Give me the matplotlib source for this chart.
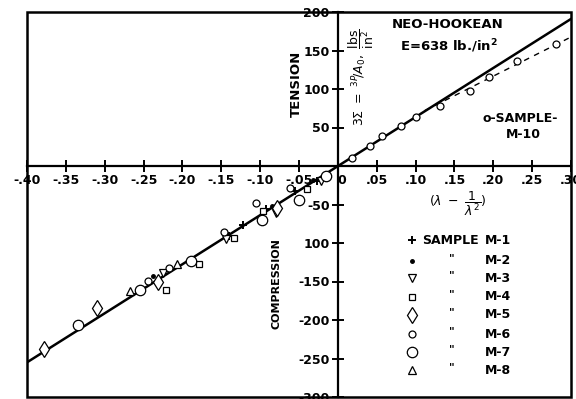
import matplotlib
matplotlib.use("Agg")
import matplotlib.pyplot as plt
from matplotlib.patches import Rectangle

# ---------------- data ----------------
x_ticks = [-0.40, -0.35, -0.30, -0.25, -0.20, -0.15, -0.10, -0.05, 0, 0.05, 0.10, 0.15, 0.20, 0.25, 0.30]
x_tick_labels = ["-.40", "-.35", "-.30", "-.25", "-.20", "-.15", "-.10", "-.05", "0",
                 ".05", ".10", ".15", ".20", ".25", ".30"]
y_ticks = [-300, -250, -200, -150, -100, -50, 50, 100, 150, 200]
y_tick_labels = ["-300", "-250", "-200", "-150", "100", "-50", "50", "100", "150", "200"]

fit_x = [-0.40, 0.30]
fit_y = [-255, 191]

m10_x = [0.018, 0.042, 0.057, 0.081, 0.100, 0.132, 0.170, 0.194, 0.231, 0.281]
m10_y = [11, 26, 39, 52, 63, 78, 97, 115, 136, 158]
m10_dash_x = [0.112, 0.297]
m10_dash_y = [72, 166]

m1_x = [-0.027, -0.055, -0.092, -0.122, -0.140]
m1_y = [-19, -33, -56, -77, -91]
m2_x = [-0.238, -0.085, -0.032]
m2_y = [-143, -52, -18]
m3_x = [-0.022, -0.080, -0.144, -0.225]
m3_y = [-20, -61, -95, -139]
m4_x = [-0.040, -0.096, -0.133, -0.179, -0.221]
m4_y = [-30, -59, -94, -127, -161]
m5_x = [-0.078, -0.231, -0.310, -0.378]
m5_y = [-55, -150, -184, -238]
m6_x = [-0.062, -0.105, -0.147, -0.217, -0.244]
m6_y = [-28, -48, -86, -133, -149]
m7_x = [-0.015, -0.050, -0.097, -0.189, -0.254, -0.334]
m7_y = [-13, -44, -70, -123, -161, -206]
m8_x = [-0.207, -0.268]
m8_y = [-127, -162]

legend_names = ["M-1", "M-2", "M-3", "M-4", "M-5", "M-6", "M-7", "M-8"]

# ---------------- styles ----------------
plt.rcParams['font.family'] = ['DejaVu Sans']
plt.rcParams['mathtext.fontset'] = 'dejavusans'
FS = 9
FW = 'bold'
styles = {
    "M-1": dict(marker='+', ms=6, mew=1.4, mfc='black'),
    "M-2": dict(marker='o', ms=2.5, mew=1.0, mfc='black'),
    "M-3": dict(marker='v', ms=5.5, mew=0.9, mfc='white'),
    "M-4": dict(marker='s', ms=5, mew=0.9, mfc='white'),
    "M-5": dict(marker='d', ms=8.5, mew=0.9, mfc='white'),
    "M-6": dict(marker='o', ms=5, mew=0.9, mfc='white'),
    "M-7": dict(marker='o', ms=7.5, mew=0.9, mfc='white'),
    "M-8": dict(marker='^', ms=5.5, mew=0.9, mfc='white'),
}
series = {
    "M-1": (m1_x, m1_y), "M-2": (m2_x, m2_y), "M-3": (m3_x, m3_y), "M-4": (m4_x, m4_y),
    "M-5": (m5_x, m5_y), "M-6": (m6_x, m6_y), "M-7": (m7_x, m7_y), "M-8": (m8_x, m8_y),
}

fig = plt.figure(figsize=(5.76, 3.99), dpi=100)
ax = fig.add_axes([27 / 576, 2 / 399, (571 - 27) / 576, (397 - 12) / 399])
ax.set_xlim(-0.40, 0.30)
ax.set_ylim(-300, 200)


def AX(px):
    return (px - 27) / 544


def AY(py):
    return (397 - py) / 385


# center axes
for s in ['top', 'right']:
    ax.spines[s].set_visible(False)
ax.spines['left'].set_position(('data', 0))
ax.spines['bottom'].set_position(('data', 0))
ax.spines['left'].set_linewidth(1.6)
ax.spines['bottom'].set_linewidth(1.6)
ax.add_patch(Rectangle((0, 0), 1, 1, transform=ax.transAxes, fill=False,
                       lw=1.8, ec='black', clip_on=False, zorder=5))

ax.set_xticks(x_ticks)
ax.set_xticklabels(x_tick_labels, fontsize=FS, fontweight=FW)
ax.set_yticks(y_ticks)
ax.set_yticklabels(y_tick_labels, fontsize=FS, fontweight=FW)
ax.tick_params(axis='both', direction='inout', length=9, width=1.4, pad=1.5)
for lab in ax.get_xticklabels():
    if lab.get_text() == "0":
        lab.set_horizontalalignment('left')

# fit line and M-10
ax.plot(fit_x, fit_y, color='black', lw=1.8, zorder=3)
ax.plot(m10_dash_x, m10_dash_y, color='black', lw=1.0, ls=(0, (4, 4)), zorder=3)
ax.plot(m10_x, m10_y, ls='none', marker='o', ms=5, mfc='white', mec='black', mew=0.9, zorder=4)

for name in legend_names:
    xs, ys = series[name]
    ax.plot(xs, ys, ls='none', mec='black', color='black', zorder=4, **styles[name])

# texts
ax.text(AX(296), AY(84), "TENSION", rotation=90, transform=ax.transAxes,
        ha='center', va='center', fontsize=9.5, fontweight=FW)
ax.text(AX(277), AY(284), "COMPRESSION", rotation=90, transform=ax.transAxes,
        ha='center', va='center', fontsize=8, fontweight=FW)
ax.text(AX(361), AY(77), r"$3\Sigma\ =\ ^{3P}\!/A_0,\ \dfrac{\mathrm{lbs}}{\mathrm{in}^2}$", rotation=90,
        transform=ax.transAxes, ha='center', va='center', fontsize=9)
ax.text(AX(448), AY(25), "NEO-HOOKEAN", transform=ax.transAxes, ha='center', va='center',
        fontsize=9.5, fontweight=FW)
ax.text(AX(449), AY(46), "E=638 lb./in$^{\\mathbf{2}}$", transform=ax.transAxes, ha='center', va='center',
        fontsize=9.5, fontweight=FW)
ax.text(AX(520), AY(118), "o-SAMPLE-", transform=ax.transAxes, ha='center', va='center',
        fontsize=9, fontweight=FW)
ax.text(AX(523), AY(135), "M-10", transform=ax.transAxes, ha='center', va='center',
        fontsize=9, fontweight=FW)
ax.text(AX(458), AY(190), r"$(\lambda\ -\ \dfrac{1}{\lambda^2})$", transform=ax.transAxes,
        ha='center', va='top', fontsize=9)

# legend (manual)
row_py = [240, 260.7, 278.3, 296.7, 315, 334, 352.3, 370]
for i, name in enumerate(legend_names):
    yy = AY(row_py[i])
    ax.plot([AX(411.7)], [yy], transform=ax.transAxes, ls='none', mec='black',
            color='black', clip_on=False, zorder=6, **styles[name])
    if i == 0:
        ax.text(AX(422), yy, "SAMPLE", transform=ax.transAxes, ha='left', va='center',
                fontsize=9, fontweight=FW)
    else:
        ax.text(AX(452), yy + 0.008, '"', transform=ax.transAxes, ha='center', va='center',
                fontsize=8, fontweight=FW)
    ax.text(AX(485), yy, name, transform=ax.transAxes, ha='left', va='center',
            fontsize=9, fontweight=FW)

fig.savefig("out.png", dpi=100)
